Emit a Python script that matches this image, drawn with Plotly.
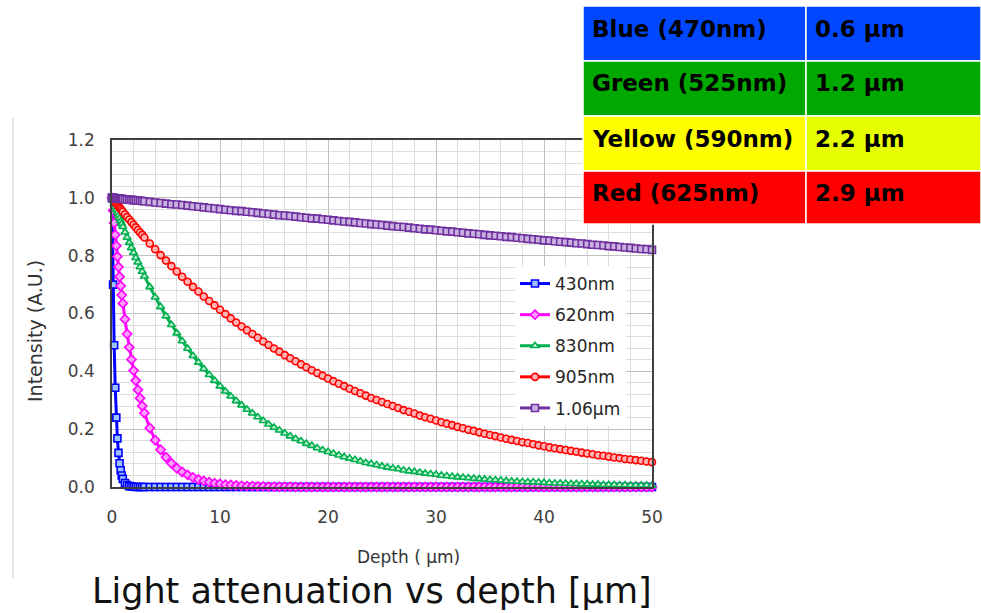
import plotly.graph_objects as go

# ---------------- data ----------------
DEPTH = [0.0, 0.1, 0.2, 0.3, 0.4, 0.5, 0.6, 0.7, 0.8, 0.9, 1.0,
         1.2, 1.4, 1.6, 1.8, 2.0, 2.2, 2.4, 2.6, 2.8, 3.0,
         3.5, 4.0, 4.5, 5.0, 5.5, 6.0, 6.5, 7.0, 7.5, 8.0,
         8.5, 9.0, 9.5, 10.0, 10.5, 11.0, 11.5, 12.0, 12.5, 13.0,
         13.5, 14.0, 14.5, 15.0, 15.5, 16.0, 16.5, 17.0, 17.5, 18.0,
         18.5, 19.0, 19.5, 20.0, 20.5, 21.0, 21.5, 22.0, 22.5, 23.0,
         23.5, 24.0, 24.5, 25.0, 25.5, 26.0, 26.5, 27.0, 27.5, 28.0,
         28.5, 29.0, 29.5, 30.0, 30.5, 31.0, 31.5, 32.0, 32.5, 33.0,
         33.5, 34.0, 34.5, 35.0, 35.5, 36.0, 36.5, 37.0, 37.5, 38.0,
         38.5, 39.0, 39.5, 40.0, 40.5, 41.0, 41.5, 42.0, 42.5, 43.0,
         43.5, 44.0, 44.5, 45.0, 45.5, 46.0, 46.5, 47.0, 47.5, 48.0,
         48.5, 49.0, 49.5, 50.0]

I_430 = [1.000, 0.700, 0.490, 0.343, 0.240, 0.168, 0.118, 0.082, 0.058, 0.040, 0.028,
         0.014, 0.007, 0.003, 0.002, 0.001, 0.000, 0.000, 0.000, 0.000, 0.000,
         0.000, 0.000, 0.000, 0.000, 0.000, 0.000, 0.000, 0.000, 0.000, 0.000,
         0.000, 0.000, 0.000, 0.000, 0.000, 0.000, 0.000, 0.000, 0.000, 0.000,
         0.000, 0.000, 0.000, 0.000, 0.000, 0.000, 0.000, 0.000, 0.000, 0.000,
         0.000, 0.000, 0.000, 0.000, 0.000, 0.000, 0.000, 0.000, 0.000, 0.000,
         0.000, 0.000, 0.000, 0.000, 0.000, 0.000, 0.000, 0.000, 0.000, 0.000,
         0.000, 0.000, 0.000, 0.000, 0.000, 0.000, 0.000, 0.000, 0.000, 0.000,
         0.000, 0.000, 0.000, 0.000, 0.000, 0.000, 0.000, 0.000, 0.000, 0.000,
         0.000, 0.000, 0.000, 0.000, 0.000, 0.000, 0.000, 0.000, 0.000, 0.000,
         0.000, 0.000, 0.000, 0.000, 0.000, 0.000, 0.000, 0.000, 0.000, 0.000,
         0.000, 0.000, 0.000, 0.000]

I_620 = [1.000, 0.956, 0.913, 0.872, 0.834, 0.797, 0.761, 0.727, 0.695, 0.664, 0.635,
         0.580, 0.529, 0.483, 0.441, 0.403, 0.368, 0.336, 0.307, 0.280, 0.256,
         0.204, 0.162, 0.129, 0.103, 0.082, 0.065, 0.052, 0.042, 0.033, 0.026,
         0.021, 0.017, 0.013, 0.011, 0.008, 0.007, 0.005, 0.004, 0.003, 0.003,
         0.002, 0.002, 0.001, 0.001, 0.001, 0.001, 0.001, 0.000, 0.000, 0.000,
         0.000, 0.000, 0.000, 0.000, 0.000, 0.000, 0.000, 0.000, 0.000, 0.000,
         0.000, 0.000, 0.000, 0.000, 0.000, 0.000, 0.000, 0.000, 0.000, 0.000,
         0.000, 0.000, 0.000, 0.000, 0.000, 0.000, 0.000, 0.000, 0.000, 0.000,
         0.000, 0.000, 0.000, 0.000, 0.000, 0.000, 0.000, 0.000, 0.000, 0.000,
         0.000, 0.000, 0.000, 0.000, 0.000, 0.000, 0.000, 0.000, 0.000, 0.000,
         0.000, 0.000, 0.000, 0.000, 0.000, 0.000, 0.000, 0.000, 0.000, 0.000,
         0.000, 0.000, 0.000, 0.000]

I_830 = [1.000, 0.990, 0.979, 0.969, 0.959, 0.949, 0.939, 0.929, 0.919, 0.910, 0.900,
         0.881, 0.863, 0.845, 0.827, 0.810, 0.793, 0.777, 0.761, 0.745, 0.729,
         0.692, 0.656, 0.623, 0.591, 0.561, 0.532, 0.505, 0.479, 0.454, 0.431,
         0.409, 0.388, 0.368, 0.349, 0.331, 0.314, 0.298, 0.283, 0.268, 0.255,
         0.242, 0.229, 0.217, 0.206, 0.196, 0.186, 0.176, 0.167, 0.159, 0.150,
         0.143, 0.135, 0.128, 0.122, 0.116, 0.110, 0.104, 0.099, 0.094, 0.089,
         0.084, 0.080, 0.076, 0.072, 0.068, 0.065, 0.062, 0.058, 0.055, 0.053,
         0.050, 0.047, 0.045, 0.043, 0.040, 0.038, 0.036, 0.034, 0.033, 0.031,
         0.029, 0.028, 0.027, 0.025, 0.024, 0.023, 0.021, 0.020, 0.019, 0.018,
         0.017, 0.017, 0.016, 0.015, 0.014, 0.013, 0.013, 0.012, 0.011, 0.011,
         0.010, 0.010, 0.009, 0.009, 0.008, 0.008, 0.008, 0.007, 0.007, 0.006,
         0.006, 0.006, 0.006, 0.005]

I_905 = [1.000, 0.995, 0.990, 0.985, 0.981, 0.976, 0.971, 0.966, 0.962, 0.957, 0.952,
         0.943, 0.934, 0.925, 0.916, 0.907, 0.898, 0.889, 0.880, 0.872, 0.863,
         0.842, 0.822, 0.802, 0.783, 0.764, 0.745, 0.727, 0.710, 0.692, 0.676,
         0.659, 0.643, 0.628, 0.613, 0.598, 0.583, 0.569, 0.555, 0.542, 0.529,
         0.516, 0.503, 0.491, 0.479, 0.468, 0.456, 0.445, 0.435, 0.424, 0.414,
         0.404, 0.394, 0.385, 0.375, 0.366, 0.357, 0.349, 0.340, 0.332, 0.324,
         0.316, 0.308, 0.301, 0.294, 0.287, 0.280, 0.273, 0.266, 0.260, 0.254,
         0.247, 0.241, 0.236, 0.230, 0.224, 0.219, 0.214, 0.208, 0.203, 0.198,
         0.194, 0.189, 0.184, 0.180, 0.176, 0.171, 0.167, 0.163, 0.159, 0.155,
         0.152, 0.148, 0.144, 0.141, 0.137, 0.134, 0.131, 0.128, 0.125, 0.122,
         0.119, 0.116, 0.113, 0.110, 0.108, 0.105, 0.102, 0.100, 0.097, 0.095,
         0.093, 0.091, 0.088, 0.086]

I_1060 = [1.000, 1.000, 0.999, 0.999, 0.998, 0.998, 0.998, 0.997, 0.997, 0.996, 0.996,
          0.995, 0.994, 0.994, 0.993, 0.992, 0.991, 0.991, 0.990, 0.989, 0.988,
          0.986, 0.984, 0.982, 0.980, 0.978, 0.977, 0.975, 0.973, 0.971, 0.969,
          0.967, 0.965, 0.963, 0.961, 0.959, 0.957, 0.955, 0.954, 0.952, 0.950,
          0.948, 0.946, 0.944, 0.942, 0.940, 0.939, 0.937, 0.935, 0.933, 0.931,
          0.929, 0.928, 0.926, 0.924, 0.922, 0.920, 0.918, 0.917, 0.915, 0.913,
          0.911, 0.909, 0.908, 0.906, 0.904, 0.902, 0.900, 0.899, 0.897, 0.895,
          0.893, 0.891, 0.890, 0.888, 0.886, 0.884, 0.883, 0.881, 0.879, 0.877,
          0.876, 0.874, 0.872, 0.870, 0.869, 0.867, 0.865, 0.864, 0.862, 0.860,
          0.858, 0.857, 0.855, 0.853, 0.852, 0.850, 0.848, 0.847, 0.845, 0.843,
          0.842, 0.840, 0.838, 0.837, 0.835, 0.833, 0.832, 0.830, 0.828, 0.827,
          0.825, 0.823, 0.822, 0.820]

SERIES_NAMES = ["430nm", "620nm", "830nm", "905nm", "1.06µm"]
SERIES_VALUES = [I_430, I_620, I_830, I_905, I_1060]
SERIES_COLORS = ["#0000FF", "#FF00FF", "#00B050", "#FF0000", "#7030A0"]
MARKER_FILLS = ["#9DC3FF", "#FF9CFF", "#C6F0D4", "#FFB3B3", "#C9B1E0"]
MARKER_SYMBOLS = ["square", "diamond", "triangle-up", "circle", "square"]

TABLE_LABELS = ["Blue (470nm)", "Green (525nm)", "Yellow (590nm)", "Red (625nm)"]
TABLE_DEPTHS = ["0.6 µm", "1.2 µm", "2.2 µm", "2.9 µm"]
TABLE_FILL_LEFT = ["#0047FF", "#00A800", "#FFFF00", "#FF0000"]
TABLE_FILL_RIGHT = ["#0047FF", "#00A800", "#E6FF00", "#FF0000"]

# ---------------- layout geometry (pixels) ----------------
W, H = 981, 613
PL, PR, PT, PB = 112, 652, 140, 487
FONT = "DejaVu Sans"


def px(x):
    return (x - PL) / (PR - PL)


def py(y):
    return (PB - y) / (PB - PT)


fig = go.Figure()
for i, (name, vals) in enumerate(zip(SERIES_NAMES, SERIES_VALUES)):
    fig.add_trace(go.Scatter(
        x=DEPTH, y=vals, name=name, mode="lines+markers",
        legendgroup=name,
        line=dict(color=SERIES_COLORS[i], width=3),
        marker=dict(symbol=MARKER_SYMBOLS[i], size=7, color=MARKER_FILLS[i],
                    line=dict(color=SERIES_COLORS[i], width=1.6)),
        cliponaxis=False,
    ))

shapes = []
annotations = []

# table
ROW_EDGES = [6, 61, 116, 171, 224]
COL_EDGES = [583, 806, 981]
for r in range(4):
    for c, fills in enumerate([TABLE_FILL_LEFT, TABLE_FILL_RIGHT]):
        shapes.append(dict(type="rect", xref="paper", yref="paper",
                           x0=px(COL_EDGES[c]), x1=px(COL_EDGES[c + 1]),
                           y0=py(ROW_EDGES[r + 1]), y1=py(ROW_EDGES[r]),
                           fillcolor=fills[r], line=dict(color="white", width=1.5),
                           layer="above"))
    ymid = (ROW_EDGES[r] + ROW_EDGES[r + 1]) / 2 - 5
    annotations.append(dict(text="<b>%s</b>" % TABLE_LABELS[r], xref="paper", yref="paper",
                            x=px(590), y=py(ymid), xanchor="left", yanchor="middle",
                            showarrow=False, font=dict(family=FONT, size=23, color="black")))
    annotations.append(dict(text="<b>%s</b>" % TABLE_DEPTHS[r], xref="paper", yref="paper",
                            x=px(813), y=py(ymid), xanchor="left", yanchor="middle",
                            showarrow=False, font=dict(family=FONT, size=23, color="black")))

# slide border line at left
shapes.append(dict(type="line", xref="paper", yref="paper", x0=px(13), x1=px(13),
                   y0=py(578), y1=py(118), line=dict(color="#c8c8c8", width=1)))

# axis titles & caption
annotations.append(dict(text="Depth ( µm)", xref="paper", yref="paper", x=px(408), y=py(557),
                        xanchor="center", yanchor="middle", showarrow=False,
                        font=dict(family=FONT, size=17, color="#333333")))
annotations.append(dict(text="Intensity (A.U.)", xref="paper", yref="paper", x=px(35), y=py(331),
                        xanchor="center", yanchor="middle", showarrow=False, textangle=-90,
                        font=dict(family=FONT, size=19, color="#333333")))
annotations.append(dict(text="Light attenuation vs depth [µm]", xref="paper", yref="paper",
                        x=px(372), y=py(613), xanchor="center", yanchor="bottom", showarrow=False,
                        font=dict(family=FONT, size=35, color="#111111")))

fig.update_layout(
    width=W, height=H,
    margin=dict(l=PL, r=W - PR, t=PT, b=H - PB, pad=0),
    paper_bgcolor="white", plot_bgcolor="white",
    shapes=shapes, annotations=annotations,
    showlegend=True,
    legend=dict(x=px(515), y=py(266), xanchor="left", yanchor="top",
                bgcolor="white", borderwidth=0, tracegroupgap=6,
                traceorder="grouped",
                font=dict(family=FONT, size=17, color="#262626")),
    font=dict(family=FONT, color="#404040"),
)
fig.update_xaxes(range=[0, 50], dtick=10, tick0=0, showgrid=True, gridcolor="#BFBFBF", gridwidth=1,
                 minor=dict(dtick=2, showgrid=True, gridcolor="#DCDCDC", gridwidth=1),
                 showline=True, linecolor="#404040", linewidth=1.5, mirror=True,
                 zeroline=False, ticks="", ticklabelstandoff=14,
                 tickfont=dict(family=FONT, size=17, color="#404040"))
fig.update_yaxes(range=[0, 1.2], dtick=0.2, tick0=0, tickformat=".1f", showgrid=True,
                 gridcolor="#BFBFBF", gridwidth=1,
                 minor=dict(dtick=0.04, showgrid=True, gridcolor="#DCDCDC", gridwidth=1),
                 showline=True, linecolor="#404040", linewidth=1.5, mirror=True,
                 zeroline=False, ticks="", ticklabelstandoff=12,
                 tickfont=dict(family=FONT, size=17, color="#404040"))

fig.write_html("out.html")
